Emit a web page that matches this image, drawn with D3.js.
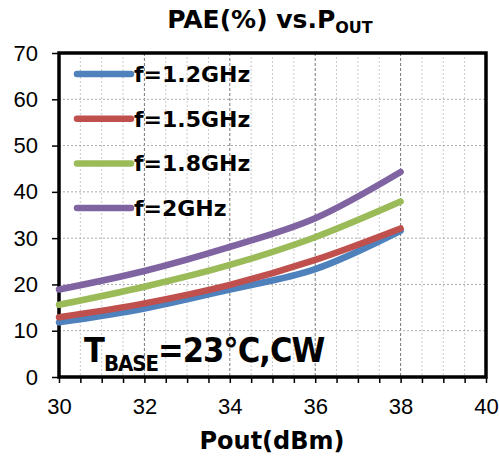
<!DOCTYPE html>
<html>
<head>
<meta charset="utf-8">
<script src="https://cdn.jsdelivr.net/npm/d3@7"></script>
<style>
  body { margin: 0; background: #fff; }
  svg { display: block; font-family: "DejaVu Sans Condensed", "DejaVu Sans", sans-serif; }
  .bold { font-family: "DejaVu Sans", sans-serif; font-weight: bold; }
  .bold-narrow { font-family: "DejaVu Sans Condensed", "DejaVu Sans", sans-serif; font-weight: bold; }
</style>
</head>
<body>
<svg id="chart" width="499" height="460" viewBox="0 0 499 460"></svg>
<script>
// Output power sweep (dBm) and PAE (%) per frequency
const pout = [30, 32, 34, 36, 38];
const pae_1g2 = [11.8, 14.8, 18.9, 23.3, 31.6];
const pae_1g5 = [12.9, 15.9, 19.9, 25.3, 32.1];
const pae_1g8 = [15.6, 19.5, 24.2, 30.2, 37.9];
const pae_2g0 = [18.9, 22.9, 28.1, 34.3, 44.3];
const series_names = ["f=1.2GHz", "f=1.5GHz", "f=1.8GHz", "f=2GHz"];
const series_colors = ["#4f81bd", "#c0504d", "#9bbb59", "#8064a2"];
const x_ticks = [30, 32, 34, 36, 38, 40];
const y_ticks = [0, 10, 20, 30, 40, 50, 60, 70];

const svg = d3.select('#chart');

const plot_left = 59, plot_right = 486, plot_top = 53, plot_bottom = 377;

const x_scale = d3.scaleLinear().domain([30, 40]).range([plot_left, plot_right]);
const y_scale = d3.scaleLinear().domain([0, 70]).range([plot_bottom, plot_top]);

// Grid: minor verticals every 0.5 dBm, major every 2 dBm, horizontals every 10 %
const minor_x = d3.range(30.5, 40, 0.5).filter(v => v % 2 !== 0);
svg.append('g')
    .selectAll('line')
    .data(minor_x)
    .enter()
    .append('line')
    .attr('x1', d => x_scale(d)).attr('x2', d => x_scale(d))
    .attr('y1', plot_top).attr('y2', plot_bottom)
    .attr('stroke', '#c8c8c8')
    .attr('stroke-width', 1)
    .attr('stroke-dasharray', '2,2');

svg.append('g')
    .selectAll('line')
    .data(x_ticks.slice(1, -1))
    .enter()
    .append('line')
    .attr('x1', d => x_scale(d)).attr('x2', d => x_scale(d))
    .attr('y1', plot_top).attr('y2', plot_bottom)
    .attr('stroke', '#777')
    .attr('stroke-width', 1)
    .attr('stroke-dasharray', '3,2');

svg.append('g')
    .selectAll('line')
    .data(y_ticks.slice(1, -1))
    .enter()
    .append('line')
    .attr('x1', plot_left).attr('x2', plot_right)
    .attr('y1', d => y_scale(d)).attr('y2', d => y_scale(d))
    .attr('stroke', '#aaa')
    .attr('stroke-width', 1)
    .attr('stroke-dasharray', '2,2');

// Axes
const x_axis = d3.axisBottom(x_scale)
    .tickValues(d3.range(30, 40.01, 0.5))
    .tickSize(6)
    .tickFormat(d => x_ticks.includes(d) ? d : '');
const gx = svg.append('g')
    .attr('transform', 'translate(0,' + plot_bottom + ')')
    .call(x_axis);
gx.select('.domain').remove();
gx.selectAll('line').attr('stroke', '#000').attr('stroke-width', 1.5);
gx.selectAll('text')
    .attr('y', 21)
    .style('font-size', '22px')
    .attr('fill', '#000');

const y_axis = d3.axisLeft(y_scale)
    .tickValues(y_ticks)
    .tickSize(7)
    .tickPadding(14);
const gy = svg.append('g')
    .attr('transform', 'translate(' + plot_left + ',0)')
    .call(y_axis);
gy.select('.domain').remove();
gy.selectAll('line').attr('stroke', '#000').attr('stroke-width', 1.5);
gy.selectAll('text')
    .style('font-size', '22px')
    .attr('fill', '#000');

// Plot frame
svg.append('rect')
    .attr('x', plot_left).attr('y', plot_top)
    .attr('width', plot_right - plot_left).attr('height', plot_bottom - plot_top)
    .attr('fill', 'none')
    .attr('stroke', '#000')
    .attr('stroke-width', 3.5);

// Curves
const all_series = [pae_1g2, pae_1g5, pae_1g8, pae_2g0];
const line = d3.line()
    .x((d, i) => x_scale(pout[i]))
    .y(d => y_scale(d))
    .curve(d3.curveMonotoneX);

svg.append('g')
    .selectAll('path')
    .data(all_series)
    .enter()
    .append('path')
    .attr('d', d => line(d))
    .attr('fill', 'none')
    .attr('stroke', (d, i) => series_colors[i])
    .attr('stroke-width', 6.5)
    .attr('stroke-linecap', 'round')
    .attr('stroke-linejoin', 'round');

// Legend
const legend = svg.append('g')
    .selectAll('g')
    .data(series_names)
    .enter()
    .append('g')
    .attr('transform', (d, i) => 'translate(77,' + (74 + i * 44.7) + ')');
legend.append('line')
    .attr('x1', 0).attr('x2', 54)
    .attr('stroke', (d, i) => series_colors[i])
    .attr('stroke-width', 6.5)
    .attr('stroke-linecap', 'round');
legend.append('text')
    .attr('class', 'bold')
    .attr('x', 57)
    .attr('y', 8)
    .style('font-size', '22px')
    .text(d => d);

// Title
const title = svg.append('text')
    .attr('class', 'bold')
    .attr('x', 270)
    .attr('y', 28)
    .attr('text-anchor', 'middle')
    .style('font-size', '25px');
title.append('tspan').text('PAE(%) vs.P');
title.append('tspan').attr('dy', 5).style('font-size', '16px').text('OUT');

// Axis title
svg.append('text')
    .attr('class', 'bold')
    .attr('x', 272)
    .attr('y', 449)
    .attr('text-anchor', 'middle')
    .style('font-size', '24px')
    .text('Pout(dBm)');

// Test condition note
const note = svg.append('text')
    .attr('class', 'bold-narrow')
    .attr('x', 84)
    .attr('y', 362)
    .style('font-size', '34px')
    .style('letter-spacing', '-1px');
note.append('tspan').text('T');
note.append('tspan').attr('dy', 9).style('font-size', '22px').text('BASE');
note.append('tspan').attr('dy', -9).text('=23℃,CW');
</script>
</body>
</html>
